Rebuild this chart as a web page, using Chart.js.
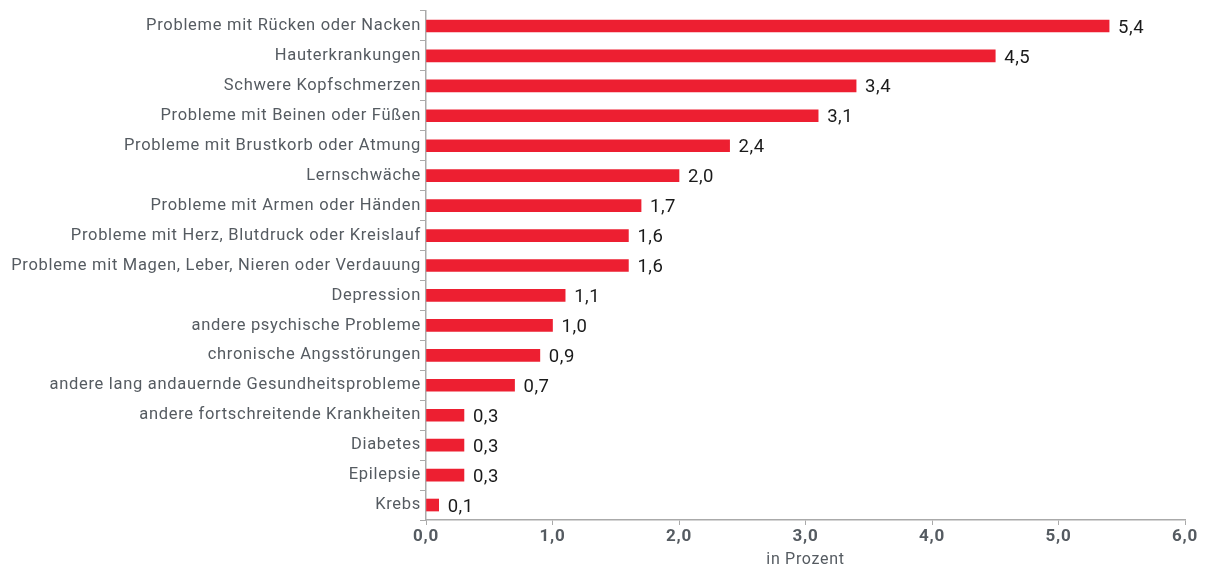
<!DOCTYPE html>
<html><head><meta charset="utf-8">
<script src="https://cdn.jsdelivr.net/npm/chart.js@4.4.0/dist/chart.umd.min.js"></script>
<style>html,body{margin:0;padding:0;background:#fff}#c{display:block}</style>
</head><body>
<canvas id="c" width="1210" height="570"></canvas>
<script>
const categories = [
  "Probleme mit Rücken oder Nacken",
  "Hauterkrankungen",
  "Schwere Kopfschmerzen",
  "Probleme mit Beinen oder Füßen",
  "Probleme mit Brustkorb oder Atmung",
  "Lernschwäche",
  "Probleme mit Armen oder Händen",
  "Probleme mit Herz, Blutdruck oder Kreislauf",
  "Probleme mit Magen, Leber, Nieren oder Verdauung",
  "Depression",
  "andere psychische Probleme",
  "chronische Angsstörungen",
  "andere lang andauernde Gesundheitsprobleme",
  "andere fortschreitende Krankheiten",
  "Diabetes",
  "Epilepsie",
  "Krebs"
];
const values = [5.4, 4.5, 3.4, 3.1, 2.4, 2.0, 1.7, 1.6, 1.6, 1.1, 1.0, 0.9, 0.7, 0.3, 0.3, 0.3, 0.1];
const xTicks = [0, 1, 2, 3, 4, 5, 6];
const xTitle = "in Prozent";

const fmt = v => v.toFixed(1).replace('.', ',');

const spacingPlugin = {
  id: 'spacing',
  beforeDraw(chart) { if ('letterSpacing' in chart.ctx) chart.ctx.letterSpacing = '0.7px'; },
  beforeDatasetsDraw(chart) { if ('letterSpacing' in chart.ctx) chart.ctx.letterSpacing = '0px'; }
};

const labelPlugin = {
  id: 'vlabels',
  afterDatasetsDraw(chart) {
    const ctx = chart.ctx;
    const meta = chart.getDatasetMeta(0);
    ctx.save();
    if ('letterSpacing' in ctx) ctx.letterSpacing = '0.5px';
    ctx.font = '18.5px Roboto';
    ctx.fillStyle = '#1a1a1a';
    ctx.textAlign = 'left';
    ctx.textBaseline = 'middle';
    meta.data.forEach((bar, i) => {
      ctx.fillText(fmt(values[i]), bar.x + 9, bar.y + 2);
    });
    ctx.restore();
  }
};

new Chart(document.getElementById('c'), {
  type: 'bar',
  data: {
    labels: categories,
    datasets: [{
      data: values,
      backgroundColor: '#ED1F31',
      barThickness: 12,
      borderWidth: 0
    }]
  },
  options: {
    indexAxis: 'y',
    responsive: false,
    animation: false,
    layout: { padding: { top: 11, right: 25, left: 0, bottom: 0 } },
    plugins: { legend: { display: false }, tooltip: { enabled: false } },
    scales: {
      x: {
        min: 0, max: 6,
        afterBuildTicks(axis) { axis.ticks = xTicks.map(v => ({ value: v })); },
        afterFit(axis) { axis.height = 50; },
        grid: { drawOnChartArea: false, drawTicks: true, tickLength: 5, color: '#aaaaaa' },
        border: { display: true, color: '#aaaaaa', width: 1.5 },
        ticks: {
          callback: v => fmt(v),
          font: { family: 'Roboto', size: 17, weight: 'bold' },
          color: '#555b61',
          padding: 2,
          maxRotation: 0
        },
        title: {
          display: true, text: xTitle,
          font: { family: 'Roboto', size: 16 },
          color: '#555b61',
          padding: { top: 0, bottom: 0 }
        }
      },
      y: {
        afterFit(axis) { axis.width = 426; },
        grid: { offset: true, drawOnChartArea: false, drawTicks: true, tickLength: 6, color: '#aaaaaa' },
        border: { display: true, color: '#aaaaaa', width: 1.5 },
        ticks: {
          font: { family: 'Roboto', size: 16.5 },
          color: '#555b61',
          padding: -1,
          autoSkip: false
        }
      }
    }
  },
  plugins: [spacingPlugin, labelPlugin]
});
</script>
</body></html>
